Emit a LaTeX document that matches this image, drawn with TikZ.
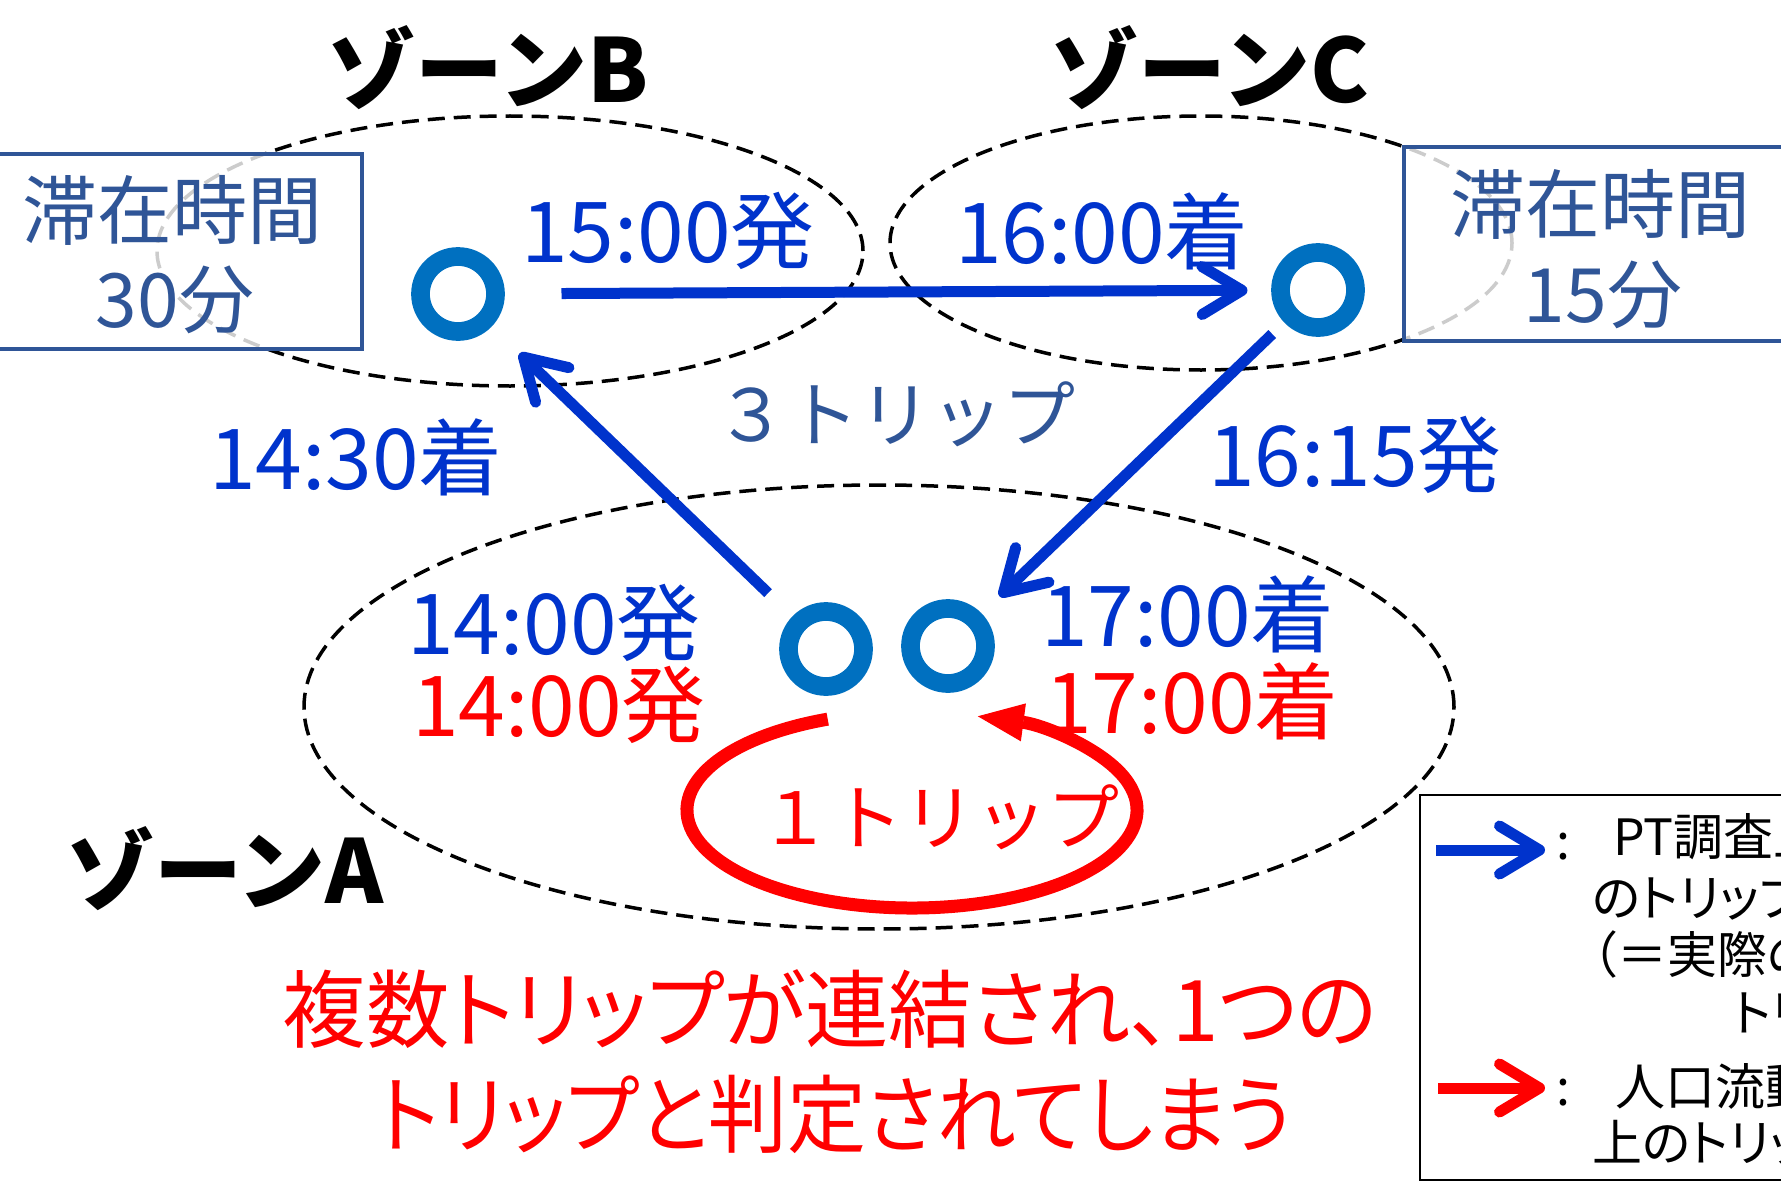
\documentclass[tikz,border=0pt]{standalone}
\usepackage{fontspec}
\usetikzlibrary{arrows.meta}
\newfontfamily\jp{Noto Sans CJK JP}
\newfontfamily\jpp[RawFeature=+palt]{Noto Sans CJK JP}
\newcommand\myfs[1]{\fontsize{#1pt}{#1pt}\selectfont}
\definecolor{tblue}{HTML}{0033CC}
\definecolor{ringblue}{HTML}{0070C0}
\definecolor{boxblue}{HTML}{2F5597}
\definecolor{tred}{HTML}{FF0000}
\begin{document}
\begin{tikzpicture}[x=1pt, y=-1pt,
  every node/.style={inner sep=0pt, outer sep=0pt},
  zonee/.style={draw=black, line width=3.5pt, dash pattern=on 17pt off 9pt},
  ring/.style={circle, draw=ringblue, line width=18.7pt, minimum size=75pt},
  tbox/.style={draw=boxblue, line width=4pt, fill=white, fill opacity=0.8},
  legbox/.style={draw=black, line width=2.2pt, fill=white},
  barrow/.style={draw=tblue, line width=11pt, -{Straight Barb[length=40pt,width=48pt,round]}},
  rarrow/.style={draw=tred, line width=11pt, -{Straight Barb[length=40pt,width=48pt,round]}},
  rloop/.style={draw=tred, line width=13pt, -{Triangle[length=46pt,width=38pt,line width=1pt]}},
  zone/.style={font=\jp\bfseries\myfs{88}, text height=65pt, text depth=0pt},
  boxt/.style={font=\jp\myfs{75}, text=boxblue, text height=55pt, text depth=0pt},
  tb/.style={font=\jp\myfs{84}, text=tblue, text height=62pt, text depth=0pt},
  tr/.style={font=\jp\myfs{84}, text=tred, text height=62pt, text depth=0pt},
  trip/.style={font=\jp\myfs{72}, text height=53pt, text depth=0pt},
  big/.style={font=\jpp\myfs{85}, text=tred, text height=63pt, text depth=0pt},
  leg/.style={font=\jpp\myfs{50}, text=black, text height=37pt, text depth=0pt, anchor=west}
]
\useasboundingbox (0,0) rectangle (1781,1188);
\clip (0,0) rectangle (1781,1188);

% zone ellipses
\draw[zonee] (510,251) ellipse [x radius=353pt, y radius=135pt];
\draw[zonee] (1201,243) ellipse [x radius=311pt, y radius=127pt];
\draw[zonee] (879,707) ellipse [x radius=575pt, y radius=222pt];

% stay-time boxes
\node[tbox, minimum width=364pt, minimum height=195pt] (boxB) at (180,251.5) {};
\node[tbox, minimum width=396pt, minimum height=194pt] (boxC) at (1602,244) {};

% stations
\node[ring] (rB) at (458,294) {};
\node[ring] (rC) at (1318,290) {};
\node[ring] (rA1) at (826,649) {};
\node[ring] (rA2) at (948,646) {};

% PT trips
\draw[barrow, shorten <=66pt, shorten >=33pt] (rB) -- (rC);
\draw[barrow, shorten <=43pt, shorten >=48pt] (rA1) -- (rB);
\draw[barrow, shorten <=26pt, shorten >=34pt] (rC) -- (rA2);

% red loop
\coordinate (lc) at (912,810);
\draw[rloop] ([shift={(112:225pt and 98pt)}]lc) arc[start angle=112, end angle=433, x radius=225pt, y radius=98pt];

% labels
\node[zone] (zB) at (488,70) {ゾーンB};
\node[zone] (zC) at (1210,70) {ゾーンC};
\node[zone] (zA) at (225,871) {ゾーンA};
\node[boxt] (bt1) at (173,211) {滞在時間};
\node[boxt] (bt2) at (175,300) {30分};
\node[boxt] (ct1) at (1600,205) {滞在時間};
\node[boxt] (ct2) at (1603,295) {15分};
\node[tb] (t1) at (668,231) {15:00発};
\node[tb] (t2) at (1102,232) {16:00着};
\node[tb] (t3) at (356,458) {14:30着};
\node[tb] (t4) at (1355,455) {16:15発};
\node[tb] (t5) at (554,623) {14:00発};
\node[tr] (t6) at (559,705) {14:00発};
\node[tb] (t7) at (1188,615) {17:00着};
\node[tr] (t8) at (1192,702) {17:00着};
\node[trip, text=boxblue] (n3) at (895,415) {３トリップ};
\node[trip, text=tred] (n1) at (939,818) {１トリップ};
\node[big] (m1) at (830,1010) {\scalebox{0.98}[1]{複数トリップが連結され、1つの}};
\node[big] (m2) at (835,1115) {\scalebox{0.93}[1]{トリップと判定されてしまう}};

% legend
\node[legbox, minimum width=380pt, minimum height=385pt] (legend) at (1610,987.5) {};
\coordinate (lbs) at (1436,850);
\coordinate (lbe) at (1545,850);
\draw[barrow] (lbs) -- (lbe);
\coordinate (lrs) at (1438,1088);
\coordinate (lre) at (1545,1088);
\draw[rarrow] (lrs) -- (lre);
\node[leg, anchor=center] (lc1) at (1563,841) {:};
\node[leg] (lt1) at (1613,837) {PT調査上};
\node[leg] (lt2) at (1592,898) {のトリップ};
\node[leg] (lt3) at (1592,955) {（＝実際の};
\node[leg] (lt4) at (1733,1013) {トリップ）};
\node[leg, anchor=center] (lc2) at (1563,1087) {:};
\node[leg] (lt5) at (1615,1087) {人口流動統計};
\node[leg] (lt6) at (1592,1143) {上のトリップ};
\end{tikzpicture}
\end{document}
